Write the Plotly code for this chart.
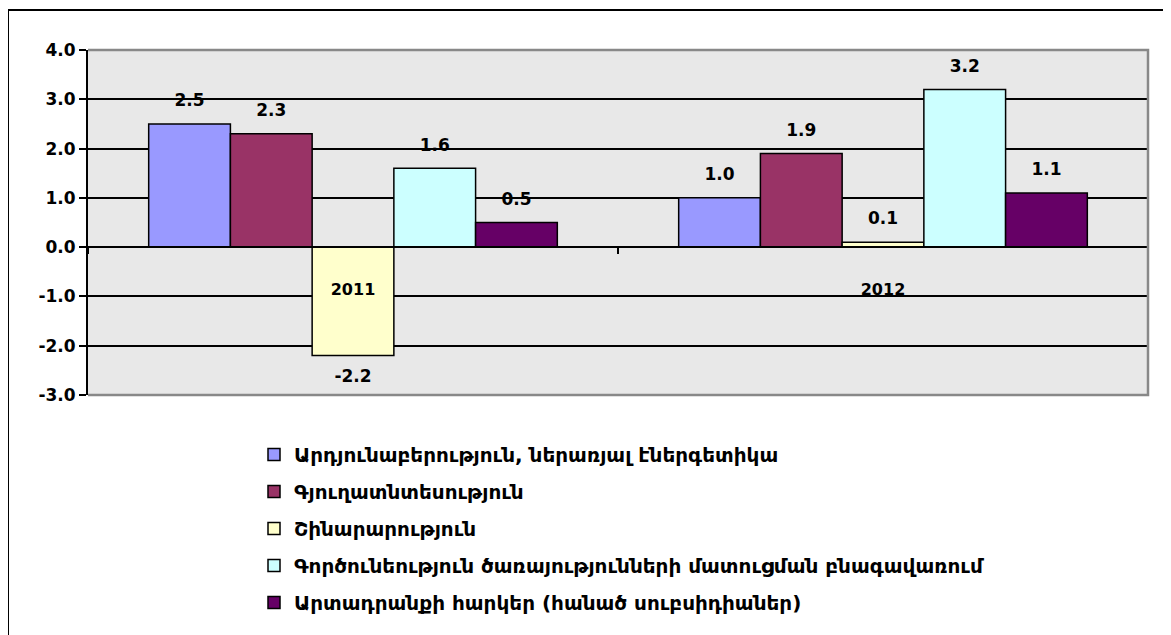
import plotly.graph_objects as go

categories = ["2011", "2012"]
series_names = [
    "Արդյունաբերություն, ներառյալ էներգետիկա",
    "Գյուղատնտեսություն",
    "Շինարարություն",
    "Գործունեություն ծառայությունների մատուցման բնագավառում",
    "Արտադրանքի հարկեր (հանած սուբսիդիաներ)",
]
series_values = [
    [2.5, 1.0],
    [2.3, 1.9],
    [-2.2, 0.1],
    [1.6, 3.2],
    [0.5, 1.1],
]
colors = ["#9999FF", "#993366", "#FFFFCC", "#CCFFFF", "#660066"]
y_ticks = [-3, -2, -1, 0, 1, 2, 3, 4]
y_tick_labels = [f"{v:.1f}" for v in y_ticks]

# the page body has an 8px margin; the figure is sized to fill the rest
W, H = 1163, 627
L, R, T, B = 80, 23, 42, 240
PW, PH = W - L - R, H - T - B

NUM_FONT = "DejaVu Sans, Verdana, sans-serif"
BARGAP = 0.229

fig = go.Figure()
for name, vals, col in zip(series_names, series_values, colors):
    fig.add_trace(go.Bar(
        x=categories, y=vals, name=name,
        marker=dict(color=col, line=dict(color="black", width=1.5)),
        legendgroup=name,
        hoverinfo="x+y+name",
    ))
for name, vals in zip(series_names, series_values):
    fig.add_trace(go.Scatter(
        x=categories, y=vals, mode="markers+text",
        text=[f"{v:.1f}" for v in vals],
        textposition=["top center" if v >= 0 else "bottom center" for v in vals],
        textfont=dict(family=NUM_FONT, size=17, color="black", weight="bold"),
        marker=dict(size=20, color="rgba(0,0,0,0)"),
        cliponaxis=False, showlegend=False, hoverinfo="skip",
        legendgroup=name,
    ))

ymin, ymax = y_ticks[0], y_ticks[-1]
zero_pos = (0 - ymin) / (ymax - ymin)

# outer chart frame (left, top and right sides; bottom is cut off by the page)
fx0, fx1 = (0 - L) / PW, (1160 - L) / PW
fy_top, fy_bot = (H - B - 2) / PH, (H - B - 700) / PH
frame_path = f"M {fx0} {fy_bot} L {fx0} {fy_top} L {fx1} {fy_top} L {fx1} {fy_bot}"

fig.update_layout(
    width=W, height=H,
    margin=dict(l=L, r=R, t=T, b=B, autoexpand=False),
    paper_bgcolor="white",
    plot_bgcolor="#e8e8e8",
    barmode="group",
    bargap=BARGAP,
    bargroupgap=0,
    scattermode="group",
    scattergap=BARGAP,
    showlegend=True,
    legend=dict(
        x=(246 - L) / PW, y=(H - B - 427) / PH,
        xanchor="left", yanchor="top",
        font=dict(family="DejaVu Sans, sans-serif", size=20, color="black", weight="bold"),
        tracegroupgap=8,
        bgcolor="rgba(0,0,0,0)",
    ),
    xaxis=dict(
        anchor="free", position=zero_pos,
        showline=True, linecolor="black", linewidth=2,
        ticks="outside", tickson="boundaries", ticklen=6, tickwidth=2, tickcolor="black",
        ticklabelstandoff=28,
        tickfont=dict(family="DejaVu Sans, sans-serif", size=16, color="black", weight="bold"),
        showgrid=False, zeroline=False,
    ),
    yaxis=dict(
        range=[ymin, ymax],
        tickvals=y_ticks, ticktext=y_tick_labels,
        showline=True, linecolor="black", linewidth=2,
        ticks="outside", ticklen=7, tickwidth=2, tickcolor="black",
        tickfont=dict(family=NUM_FONT, size=17, color="black", weight="bold"),
        showgrid=True, gridcolor="black", gridwidth=1.5,
        zeroline=True, zerolinecolor="black", zerolinewidth=2,
    ),
    shapes=[
        dict(type="path", xref="paper", yref="paper",
             path="M 0 1 L 1 1 L 1 0 L 0 0",
             line=dict(color="#888888", width=2.5), layer="above"),
        dict(type="path", xref="paper", yref="paper",
             path=frame_path,
             line=dict(color="black", width=2)),
    ],
)

fig.write_html("out.html")
